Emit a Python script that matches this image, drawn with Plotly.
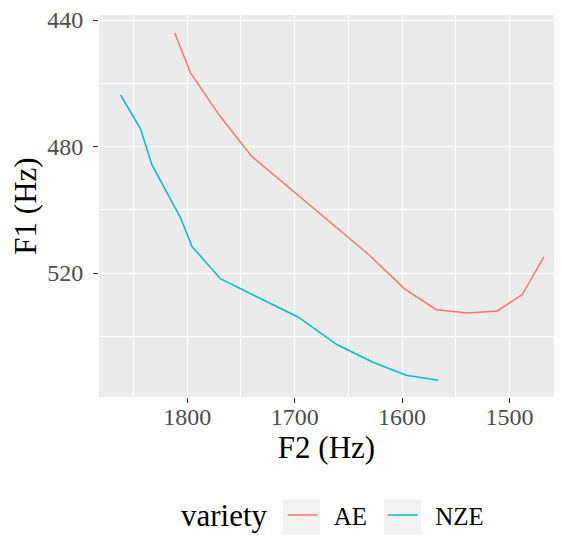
import plotly.graph_objects as go

# Data (F2 and F1 in Hz)
ae_f2 = [1811.6, 1797.0, 1769.8, 1740.3, 1630.9, 1597.7, 1568.2, 1538.8, 1511.4, 1488.2, 1468.1]
ae_f1 = [444.0, 456.6, 470.2, 483.0, 514.2, 525.0, 531.6, 532.6, 532.0, 526.8, 514.9]

nze_f2 = [1861.9, 1843.3, 1832.7, 1806.0, 1795.5, 1769.1, 1696.9, 1660.7, 1627.2, 1596.1, 1566.7]
nze_f1 = [463.7, 474.5, 485.8, 502.6, 511.6, 521.8, 533.9, 542.6, 548.2, 552.3, 553.9]

x_ticks = [1800, 1700, 1600, 1500]
y_ticks = [440, 480, 520]

FONT = "Liberation Serif"

fig = go.Figure()
fig.add_trace(go.Scatter(x=ae_f2, y=ae_f1, mode="lines", name="  AE",
                         line=dict(color="#F8766D", width=1.5)))
fig.add_trace(go.Scatter(x=nze_f2, y=nze_f1, mode="lines", name="  NZE",
                         line=dict(color="#00BFC4", width=1.5)))

axis_common = dict(
    showline=False, zeroline=False, automargin=False,
    showgrid=True, gridcolor="white", gridwidth=1.1,
    ticks="outside", ticklen=5, tickwidth=1.1, tickcolor="#333333",
    tickfont=dict(family=FONT, size=24, color="#4D4D4D"),
    ticklabeloverflow="allow",
)

fig.update_xaxes(
    range=[1882.0, 1458.7],
    tickvals=x_ticks, ticktext=[str(v) for v in x_ticks],
    minor=dict(tickvals=[1850, 1750, 1650, 1550], showgrid=True,
               gridcolor="white", gridwidth=0.5, ticks=""),
    title=dict(text="F2 (Hz)", font=dict(family=FONT, size=31, color="black"), standoff=7),
    ticklabelstandoff=-7,
    **axis_common,
)
fig.update_yaxes(
    range=[559.2, 438.4],
    tickvals=y_ticks, ticktext=[str(v) for v in y_ticks],
    minor=dict(tickvals=[460, 500, 540], showgrid=True,
               gridcolor="white", gridwidth=0.5, ticks=""),
    title=dict(text="F1 (Hz)", font=dict(family=FONT, size=31, color="black"), standoff=3),
    ticklabelstandoff=5,
    **axis_common,
)

# legend key backgrounds (ggplot style grey keys)
for x0, x1 in [(0.4044, 0.4857), (0.6264, 0.7077)]:
    fig.add_shape(type="rect", xref="paper", yref="paper",
                  x0=x0, x1=x1, y0=-0.268, y1=-0.40,
                  fillcolor="#F2F2F2", line=dict(width=0), layer="above")

fig.add_annotation(text="variety", xref="paper", yref="paper",
                   x=0.2769, y=-0.3098, xanchor="center", yanchor="middle",
                   showarrow=False, font=dict(family=FONT, size=31, color="black"))

fig.update_layout(
    width=546, height=527,
    margin=dict(l=91, r=0, t=7, b=137.5, autoexpand=False),
    plot_bgcolor="#EBEBEB", paper_bgcolor="white",
    font=dict(family=FONT),
    legend=dict(
        orientation="h", x=0.4037, xanchor="left", y=-0.3098, yanchor="middle",
        bgcolor="rgba(0,0,0,0)",
        font=dict(family=FONT, size=25, color="black"),
        itemwidth=30, entrywidth=55, entrywidthmode="pixels",
    ),
)

fig.write_html("out.html")
